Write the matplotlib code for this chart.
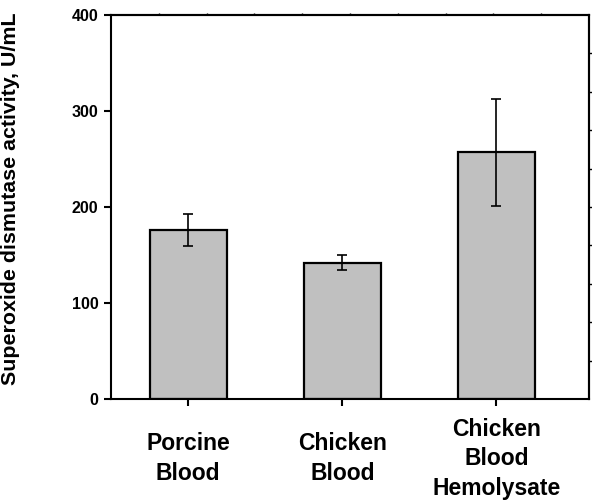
import numpy as np
import matplotlib
matplotlib.use("Agg")
import matplotlib.pyplot as plt

plt.rcParams['font.family'] = ['Liberation Sans', 'DejaVu Sans']
plt.rcParams['font.weight'] = 'bold'

categories = ["Porcine\nBlood", "Chicken\nBlood", "Chicken\nBlood\nHemolysate"]
sod_activity = [176, 142, 257]
sod_error = [16.5, 8, 55.5]
y_ticks = [0, 100, 200, 300, 400]

fig = plt.figure(figsize=(5.92, 5.0), dpi=100)
ax = fig.add_axes([111/592, 1-399/500, (589-111)/592, (399-15)/500])

x = np.arange(len(categories))
ax.bar(x, sod_activity, width=0.5, color='#c0c0c0', edgecolor='black',
       linewidth=1.6, zorder=2)
ax.errorbar(x, sod_activity, yerr=sod_error, fmt='none', ecolor='black',
            elinewidth=1.2, capsize=3.5, capthick=1.2, zorder=3)

ax.set_xlim(-0.5, 2.6)
ax.set_ylim(0, 400)
ax.set_yticks(y_ticks)
ax.set_yticklabels([str(v) for v in y_ticks], fontsize=11.5, fontweight='bold')
ax.set_xticks(x)
ax.set_xticklabels([])
ax.tick_params(axis='both', direction='out', length=5, width=1.5, pad=4)

for sp in ax.spines.values():
    sp.set_linewidth(1.5)

# category labels, vertically centred below the axis
for xi, lab in zip(x, categories):
    ax.annotate(lab, xy=(xi, 0), xycoords=('data', 'axes fraction'),
                xytext=(0, -43), textcoords='offset points',
                ha='center', va='center', fontsize=16.5, fontweight='bold',
                linespacing=1.36, annotation_clip=False)

# decorative ticks on the top and right frame edges
top = ax.secondary_xaxis('top')
top.set_xticks(np.linspace(-0.5, 2.6, 11)[1:-1])
top.set_xticklabels([])
top.tick_params(direction='out', length=1.5, width=1)
top.spines['top'].set_linewidth(1.5)

right = ax.secondary_yaxis('right')
right.set_yticks(np.arange(40, 400, 40))
right.set_yticklabels([])
right.tick_params(direction='out', length=3, width=1)
right.spines['right'].set_linewidth(1.5)

ax.set_ylabel("Superoxide dismutase activity, U/mL", fontsize=15.4,
              fontweight='bold')
ax.yaxis.set_label_coords(-(111-20)/478, (399-199)/384)

fig.savefig("out.png", dpi=100)
